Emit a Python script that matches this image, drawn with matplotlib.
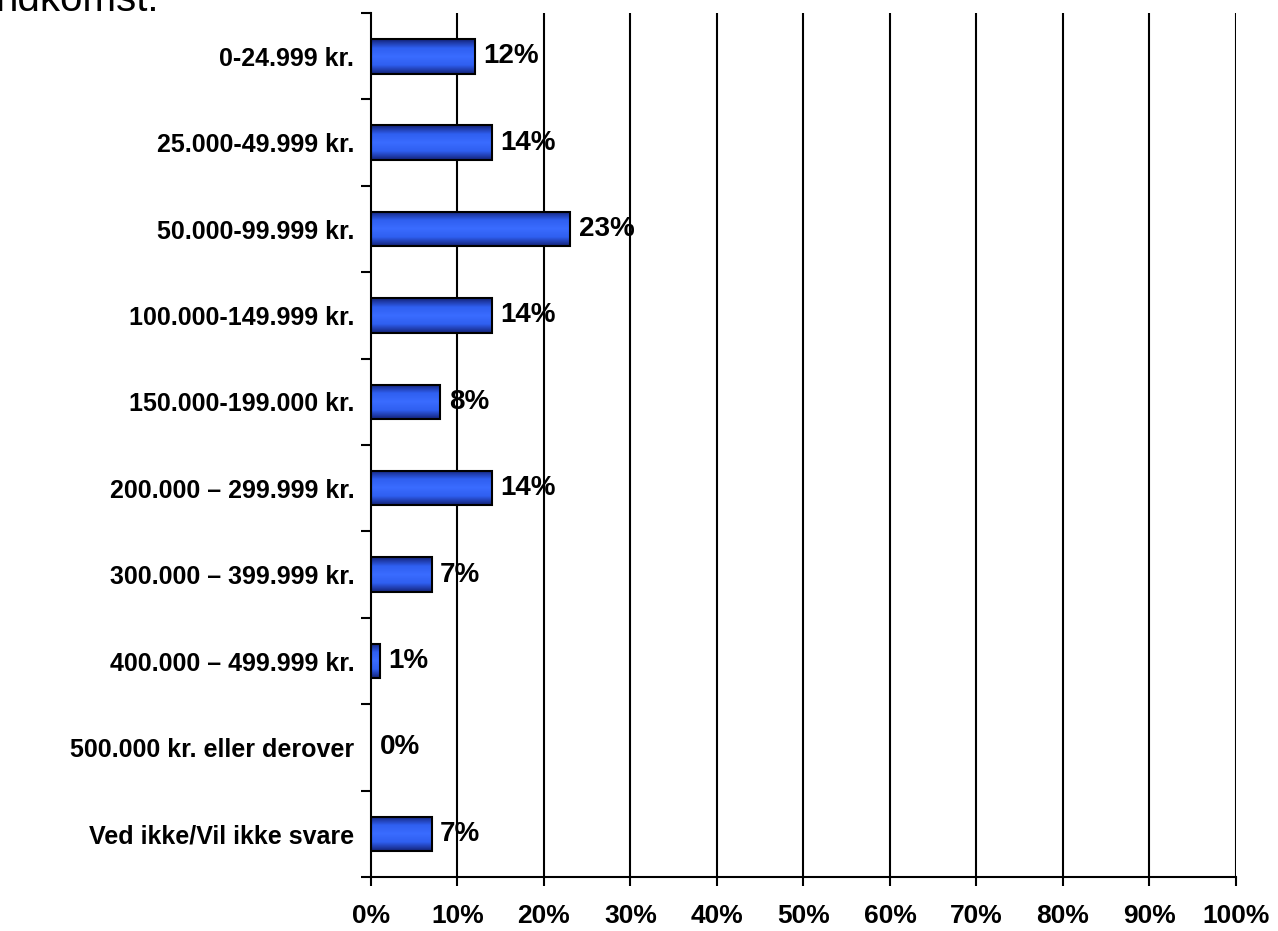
import matplotlib
matplotlib.use("Agg")
import matplotlib.pyplot as plt
import numpy as np
from matplotlib.colors import LinearSegmentedColormap
from matplotlib.patches import Rectangle

categories = ["0-24.999 kr.", "25.000-49.999 kr.", "50.000-99.999 kr.",
              "100.000-149.999 kr.", "150.000-199.000 kr.",
              "200.000 \u2013 299.999 kr.", "300.000 \u2013 399.999 kr.",
              "400.000 \u2013 499.999 kr.", "500.000 kr. eller derover",
              "Ved ikke/Vil ikke svare"]
values = [12, 14, 23, 14, 8, 14, 7, 1, 0, 7]
xticks = list(range(0, 101, 10))

plt.rcParams['font.family'] = ['Liberation Sans', 'DejaVu Sans']

fig = plt.figure(figsize=(12.78, 9.31), dpi=100)
ax = fig.add_axes([0.2903, 0.058, 0.6768, 0.928])

# dark edge -> bright middle -> dark edge
cmap = LinearSegmentedColormap.from_list("bar", ["#14237a", "#2f5ff0", "#3a6cff", "#2f5ff0", "#14237a"])
grad = np.linspace(0, 1, 64).reshape(-1, 1)

ypos = np.arange(len(categories))
h = 0.4
for y, v in zip(ypos, values):
    if v > 0:
        im = ax.imshow(grad, extent=[0, v, y + h / 2, y - h / 2], aspect='auto',
                       cmap=cmap, zorder=3, interpolation='bilinear')
        rect = Rectangle((0, y - h / 2), v, h, facecolor='none', edgecolor='black',
                         linewidth=1.5, zorder=4)
        ax.add_patch(rect)
        im.set_clip_path(rect)
    ax.text(v + 1.0, y, f"{v}%", va='center', ha='left', fontsize=20,
            fontweight='bold', zorder=5)

ax.set_xlim(0, 100)
ax.set_ylim(len(categories) - 0.5, -0.5)
ax.set_xticks(xticks)
ax.set_xticklabels([f"{t}%" for t in xticks], fontsize=19, fontweight='bold')
ax.set_yticks(ypos)
ax.set_yticklabels(categories, fontsize=18, fontweight='bold')
ax.set_yticks(np.arange(-0.5, len(categories)), minor=True)
ax.tick_params(axis='y', which='major', length=0, pad=12)
ax.tick_params(axis='y', which='minor', length=7, width=1.5, direction='out')
ax.tick_params(axis='x', length=6.5, width=1.5, pad=13)

for t in xticks[1:]:
    ax.axvline(t, color='black', linewidth=1.5, zorder=1)

for s in ['top', 'right']:
    ax.spines[s].set_visible(False)
for s in ['left', 'bottom']:
    ax.spines[s].set_linewidth(1.5)
    ax.spines[s].set_zorder(6)

fig.text(-0.004, 1.0, "ndkomst:", fontsize=29, ha='left', va='center')

fig.savefig("out.png", dpi=100)
